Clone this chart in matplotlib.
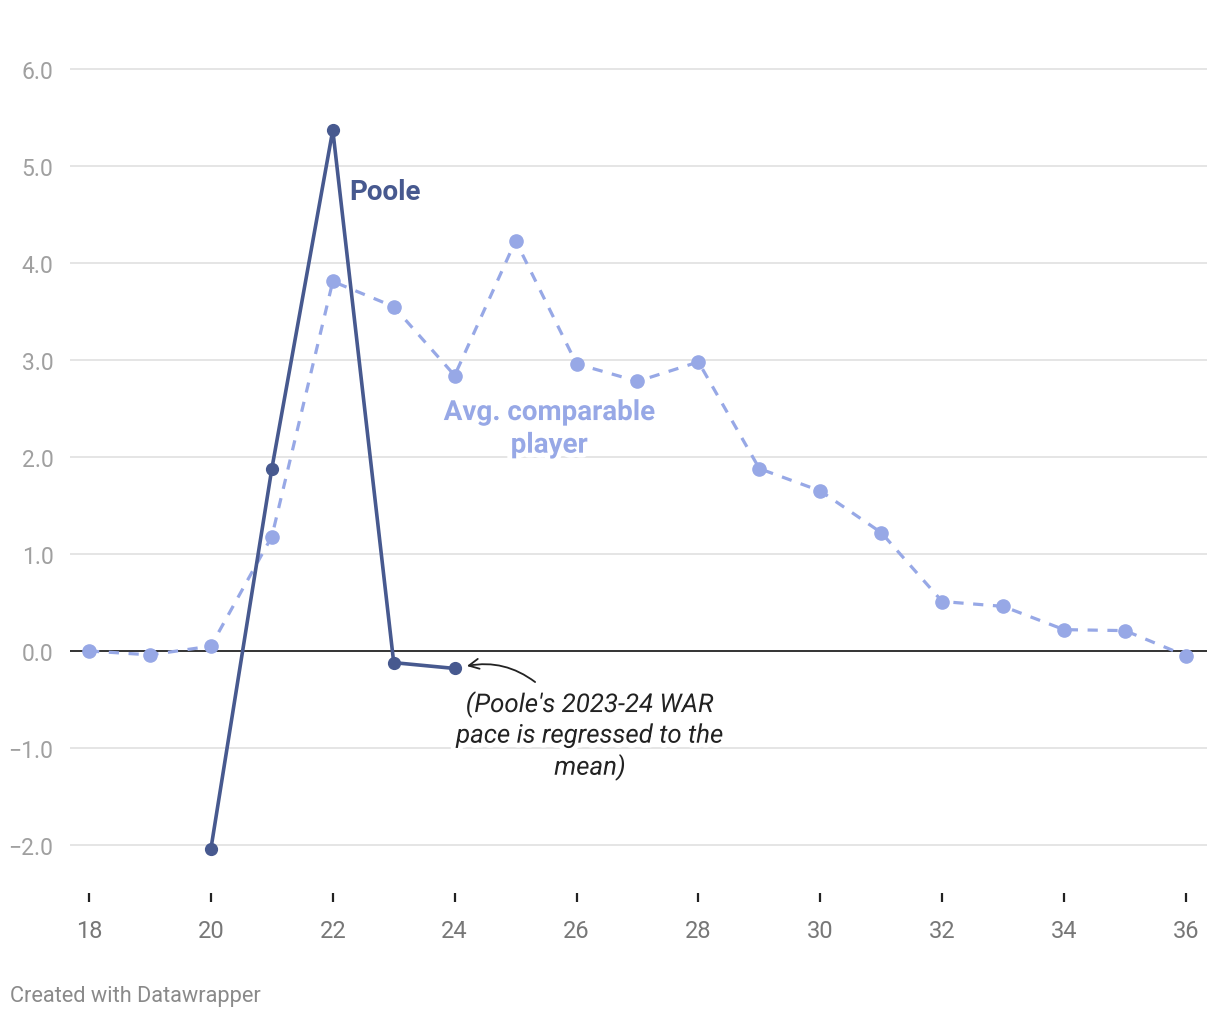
import matplotlib
matplotlib.use("Agg")
import matplotlib.pyplot as plt
import matplotlib.patheffects as pe

plt.rcParams['font.family'] = ['Roboto', 'DejaVu Sans']

# Data
avg_age = [18, 19, 20, 21, 22, 23, 24, 25, 26, 27, 28, 29, 30, 31, 32, 33, 34, 35, 36]
avg_war = [0.0, -0.04, 0.05, 1.18, 3.81, 3.55, 2.84, 4.23, 2.96, 2.78, 2.98,
           1.88, 1.65, 1.22, 0.51, 0.46, 0.22, 0.21, -0.05]
poole_age = [20, 21, 22, 23, 24]
poole_war = [-2.04, 1.88, 5.37, -0.12, -0.18]

y_ticks = [-2.0, -1.0, 0.0, 1.0, 2.0, 3.0, 4.0, 5.0, 6.0]
x_ticks = [18, 20, 22, 24, 26, 28, 30, 32, 34, 36]

poole_col = "#47598f"
avg_col = "#97a8e6"

fig = plt.figure(figsize=(12.2, 10.2), dpi=100)
ax = fig.add_axes([70/1220, 1 - 894/1020, (1207-70)/1220, (894-60)/1020])
ax.set_xlim(17.688, 36.345)
ax.set_ylim(-2.495, 6.103)

for s in ax.spines.values():
    s.set_visible(False)

# gridlines
for yv in y_ticks:
    if yv == 0:
        ax.axhline(yv, color="#111111", lw=1.2, zorder=2)
    else:
        ax.axhline(yv, color="#e3e3e3", lw=1.3, zorder=0)

ax.plot(avg_age, avg_war, color=avg_col, lw=2.3, ls=(0, (3.2, 3.0)),
        marker="o", ms=9.5, zorder=3)
ax.plot(poole_age, poole_war, color=poole_col, lw=2.6, marker="o", ms=8.5, zorder=4)

ax.set_yticks(y_ticks)
ax.set_yticklabels([("\u2212" if v < 0 else "") + f"{abs(v):.1f}" for v in y_ticks])
ax.tick_params(axis="y", length=0, pad=12, labelsize=16.5, labelcolor="#a0a0a0")
ax.set_xticks(x_ticks)
ax.tick_params(axis="x", length=6.5, width=1.6, color="#222222", direction="out",
               pad=12.5, labelsize=17, labelcolor="#777777")

halo = [pe.withStroke(linewidth=7, foreground="white")]
ax.text(22.27, 4.74, "Poole", color=poole_col, fontsize=20, fontweight="bold",
        ha="left", va="center", zorder=5)
ax.text(25.55, 2.29, "Avg. comparable\nplayer", color=avg_col, fontsize=20,
        fontweight="bold", ha="center", va="center", linespacing=1.27,
        path_effects=halo, zorder=5)

ax.text(26.22, -0.876, "(Poole's 2023-24 WAR\npace is regressed to the\nmean)",
        fontsize=18.6, style="italic", color="#222222", ha="center", va="center",
        linespacing=1.3, path_effects=halo, zorder=5)
ax.annotate("", xy=(24.2, -0.155), xytext=(25.32, -0.32),
            arrowprops=dict(arrowstyle="->", color="#222222", lw=1.3,
                            mutation_scale=18, connectionstyle="arc3,rad=0.22",
                            shrinkA=0, shrinkB=0), zorder=5)

fig.text(10/1220, 1 - 997/1020, "Created with Datawrapper", fontsize=15.7,
         color="#8a8a8a", ha="left", va="center")

fig.savefig("out.png", dpi=100)
